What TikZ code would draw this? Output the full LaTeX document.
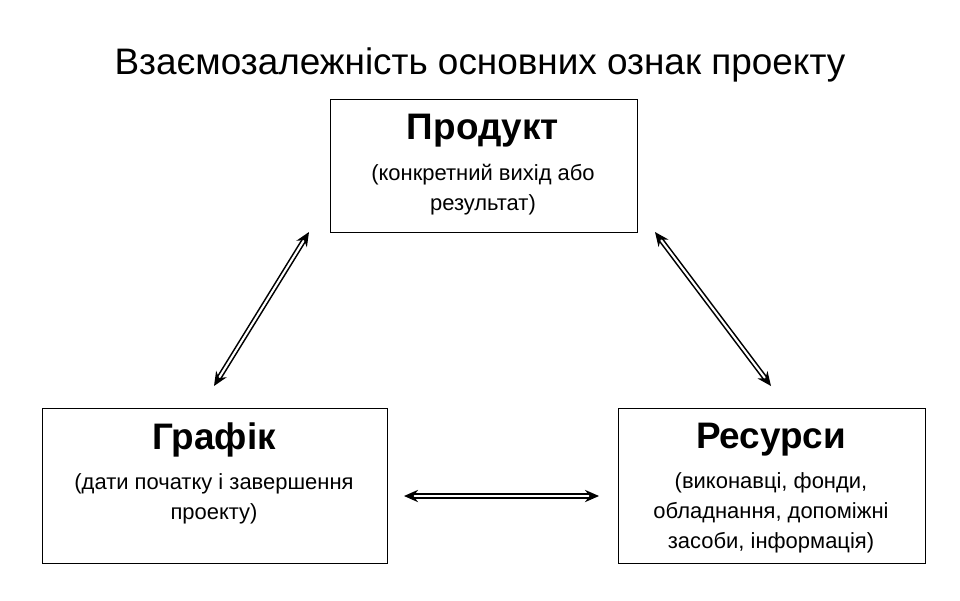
\documentclass[tikz,border=0pt]{standalone}
\usepackage{fontspec}
\setmainfont{Liberation Sans}
\usetikzlibrary{arrows.meta}
\begin{document}
\begin{tikzpicture}[x=0.02cm,y=-0.02cm,
  box/.style={draw,line width=0.6pt,anchor=north west,inner sep=0},
  head/.style={font=\fontsize{21}{24}\selectfont\bfseries},
  sub/.style={font=\fontsize{12.5}{17}\selectfont,align=center},
  link/.style={double,double distance=1.2pt,line width=0.9pt,{Stealth[length=8pt,width=7pt]}-{Stealth[length=8pt,width=7pt]}}]
\path[use as bounding box] (0,0) rectangle (960,600);
\node[font=\fontsize{21}{24}\selectfont] (t) at (480,65) {Взаємозалежність основних ознак проекту};
\node[box,minimum width=307*0.02cm,minimum height=133*0.02cm] (p) at (330,99) {};
\node[box,minimum width=345*0.02cm,minimum height=155*0.02cm] (g) at (42,408) {};
\node[box,minimum width=307*0.02cm,minimum height=155*0.02cm] (r) at (618,408) {};
\node[head] (ph) at (483,131) {Продукт};
\node[sub] (ps) at (483,190) {(конкретний вихід або\\результат)};
\node[head] (gh) at (214,440) {Графік};
\node[sub] (gs) at (214,499) {(дати початку і завершення\\проекту)};
\node[head] (rh) at (771,440) {Ресурси};
\node[sub] (rs) at (771,513) {(виконавці, фонди,\\обладнання, допоміжні\\засоби, інформація)};
\coordinate (a1) at (309,232); \coordinate (a2) at (214,386);
\coordinate (b1) at (655,232); \coordinate (b2) at (771,386);
\coordinate (c1) at (404,496); \coordinate (c2) at (599,496);
\draw[link] (a1) -- (a2);
\draw[link] (b1) -- (b2);
\draw[link] (c1) -- (c2);
\end{tikzpicture}
\end{document}
